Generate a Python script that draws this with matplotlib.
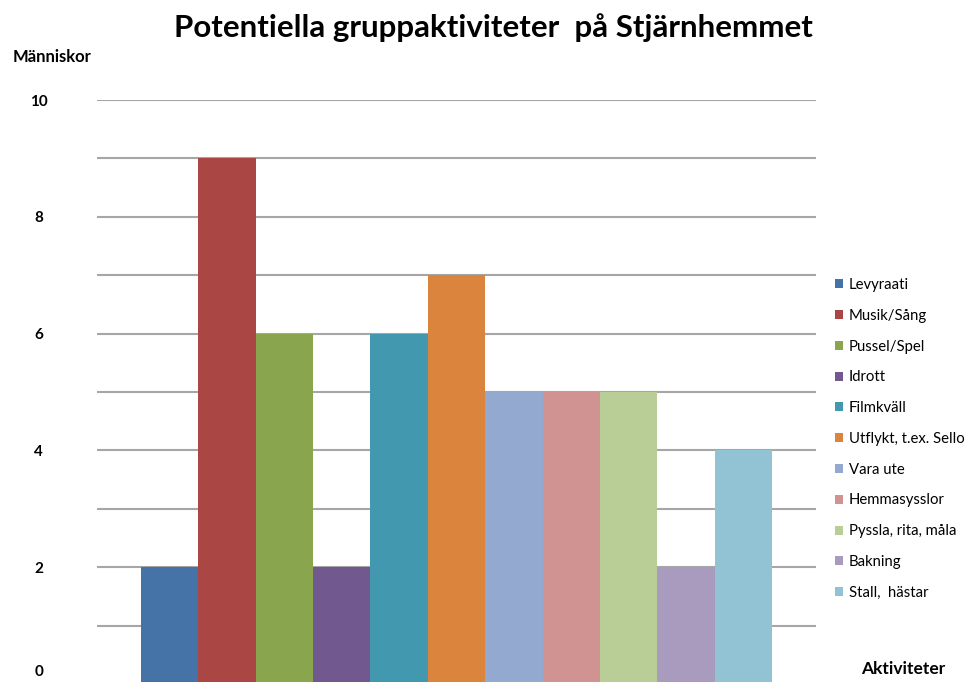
import matplotlib
matplotlib.use("Agg")
import matplotlib.pyplot as plt
from matplotlib.patches import Patch
from matplotlib.transforms import ScaledTranslation

categories = ["Levyraati", "Musik/Sång", "Pussel/Spel", "Idrott", "Filmkväll",
              "Utflykt, t.ex. Sello", "Vara ute", "Hemmasysslor",
              "Pyssla, rita, måla", "Bakning", "Stall,  hästar"]
values = [2, 9, 6, 2, 6, 7, 5, 5, 5, 2, 4]
colors = ["#4572A7", "#AA4643", "#89A54E", "#71588F", "#4198AF", "#DB843D",
          "#93A9CF", "#D19392", "#B9CD96", "#A99BBD", "#92C3D4"]
yticks = [0, 2, 4, 6, 8, 10]

plt.rcParams['font.family'] = ['Lato', 'DejaVu Sans']

W, H = 970, 682
fig = plt.figure(figsize=(W / 100, H / 100), dpi=100)
left, right, top, bottom = 97, 816, 100, 684
ax = fig.add_axes([left / W, 1 - bottom / H, (right - left) / W, (bottom - top) / H])

x = list(range(len(values)))
ax.bar(x, values, width=1.0, color=colors, zorder=3)
ax.set_xlim(-1.27, len(values) - 1 + 1.27)
ax.set_ylim(0, 10)
ax.set_yticks(yticks)
ax.set_yticks(range(0, 11, 1), minor=True)
ax.yaxis.grid(True, which="both", color="#a6a6a6", linewidth=1.5)
ax.set_axisbelow(True)
for s in ax.spines.values():
    s.set_visible(False)
ax.set_xticks([])
ax.tick_params(axis="y", which="both", length=0, pad=42)
for lab in ax.get_yticklabels():
    lab.set_fontweight("bold")
    lab.set_fontsize(11)
    lab.set_horizontalalignment("center")
    if lab.get_text() == "0":
        lab.set_verticalalignment("bottom")
        lab.set_transform(lab.get_transform()
                          + ScaledTranslation(0, 5 / 100, fig.dpi_scale_trans))

fig.text(493 / W, 1 - 28 / H, "Potentiella gruppaktiviteter  på Stjärnhemmet",
         ha="center", va="center", fontsize=22.5, fontweight="bold")
fig.text(52 / W, 1 - 57 / H, "Människor", ha="center", va="center",
         fontsize=12, fontweight="bold")
fig.text(903 / W, 1 - 669 / H, "Aktiviteter", ha="center", va="center",
         fontsize=12.5, fontweight="bold")

handles = [Patch(facecolor=c, edgecolor="none") for c in colors]
fig.legend(handles, categories, loc="upper left",
           bbox_to_anchor=(829 / W, 1 - 272 / H), frameon=False,
           fontsize=10.7, handlelength=0.55, handleheight=0.55, handletextpad=0.4,
           labelspacing=1.13, borderaxespad=0)

fig.savefig("out.png", dpi=100)
